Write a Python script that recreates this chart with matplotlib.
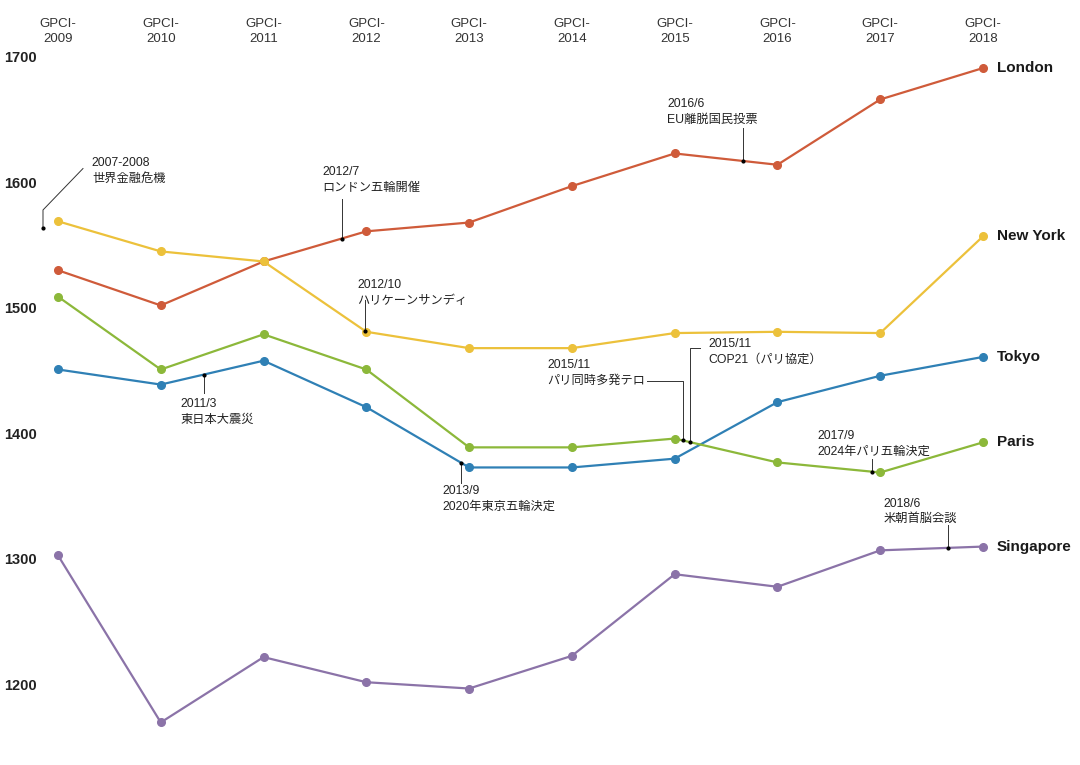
import matplotlib
matplotlib.use("Agg")
import matplotlib.pyplot as plt
import numpy as np

plt.rcParams['font.family'] = ['Liberation Sans', 'Noto Sans CJK JP']

years = ["2009", "2010", "2011", "2012", "2013", "2014", "2015", "2016", "2017", "2018"]
cities = ["London", "New York", "Tokyo", "Paris", "Singapore"]
london = [1531, 1503, 1538, 1562, 1569, 1598, 1624, 1615, 1667, 1692]
new_york = [1570, 1546, 1538, 1482, 1469, 1469, 1481, 1482, 1481, 1558]
tokyo = [1452, 1440, 1459, 1422, 1374, 1374, 1381, 1426, 1447, 1462]
paris = [1510, 1452, 1480, 1452, 1390, 1390, 1397, 1378, 1370, 1394]
singapore = [1304, 1171, 1223, 1203, 1198, 1224, 1289, 1279, 1308, 1311]
yticks = [1200, 1300, 1400, 1500, 1600, 1700]

series = [london, new_york, tokyo, paris, singapore]
colors = ["#cf5b3a", "#ecc13b", "#2f80b5", "#8cb83a", "#8b73a8"]

# events: (text, series index, position in years, text x, text top, leader end)
events = [
    ("2011/3\n東日本大震災", 2, 1.42, 1.19, 1429, 1433),
    ("2012/7\nロンドン五輪開催", 0, 2.76, 2.57, 1614, 1588),
    ("2012/10\nハリケーンサンディ", 1, 2.99, 2.91, 1524, 1507),
    ("2013/9\n2020年東京五輪決定", 2, 3.92, 3.74, 1360, 1362),
    ("2016/6\nEU離脱国民投票", 0, 6.66, 5.93, 1668, 1644),
    ("2017/9\n2024年パリ五輪決定", 3, 7.92, 7.39, 1404, 1381),
    ("2018/6\n米朝首脳会談", 4, 8.66, 8.03, 1350, 1328),
]

fig = plt.figure(figsize=(10.8, 7.65), dpi=100)
ax = fig.add_axes([58 / 1080, 1 - 686 / 765, 925 / 1080, 628 / 765])
ax.set_xlim(0, 9)
ax.set_ylim(1200, 1700)
ax.axis("off")

x = np.arange(len(years))
for name, vals, c in zip(cities, series, colors):
    ax.plot(x, vals, color=c, lw=1.6, marker="o", ms=5.5, zorder=2, clip_on=False)
    ax.text(9.135, vals[-1], name, ha="left", va="center", fontsize=11,
            fontweight="bold", color="#1a1a1a", clip_on=False)

for i, y in enumerate(years):
    ax.text(i, 1721, "GPCI-\n" + y, ha="center", va="center", fontsize=9.5,
            color="#333333", linespacing=1.3, clip_on=False)

for t in yticks:
    ax.text(-0.52, t, str(t), ha="left", va="center", fontsize=10.5,
            fontweight="bold", color="#222222", clip_on=False)

ann = dict(fontsize=8.8, color="#222222", va="top", ha="left", linespacing=1.4)

for txt, si, px, tx, ty, ly in events:
    py = np.interp(px, x, series[si])
    ax.plot([px, px], [py, ly], color="#333333", lw=0.7, zorder=3)
    ax.plot(px, py, "o", color="black", ms=2, zorder=4)
    ax.text(tx, ty, txt, **ann)

# 2007-2008 crisis (before the first index)
ax.plot([-0.146, -0.146, 0.243], [1565, 1579, 1612], color="#333333", lw=0.7,
        clip_on=False)
ax.plot(-0.146, 1565, "o", color="black", ms=2, clip_on=False)
ax.text(0.33, 1621, "2007-2008\n世界金融危機", **ann)

# two events in 2015/11 on Paris
p1 = np.interp(6.08, x, paris)
ax.plot([6.08, 6.08, 5.73], [p1, 1443, 1443], color="#333333", lw=0.7)
ax.plot(6.08, p1, "o", color="black", ms=2, zorder=4)
ax.text(4.76, 1460, "2015/11\nパリ同時多発テロ", **ann)

p2 = np.interp(6.15, x, paris)
ax.plot([6.15, 6.15, 6.25], [p2, 1469, 1469], color="#333333", lw=0.7)
ax.plot(6.15, p2, "o", color="black", ms=2, zorder=4)
ax.text(6.33, 1477, "2015/11\nCOP21（パリ協定）", **ann)

fig.savefig("out.png", dpi=100, facecolor="white")
